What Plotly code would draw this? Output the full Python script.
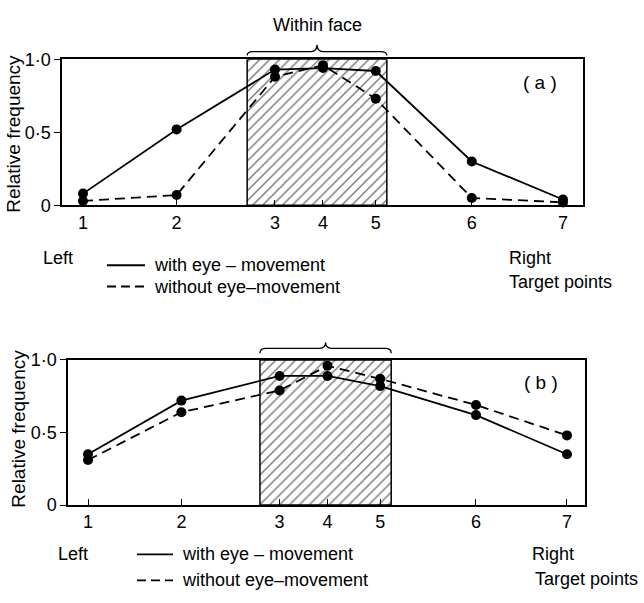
import plotly.graph_objects as go

# ---- data ----
target_points = [1, 2, 3, 4, 5, 6, 7]
target_pos = [0, 1.95, 4, 5, 6.1, 8.1, 10]          # horizontal position of each target
tick_labels = ["1", "2", "3", "4", "5", "6", "7"]
y_tick_vals = [0, 0.5, 1.0]
y_tick_text = ["0", "0·5", "1·0"]

with_eye_a = [0.08, 0.52, 0.93, 0.94, 0.92, 0.30, 0.04]
without_eye_a = [0.03, 0.07, 0.88, 0.96, 0.73, 0.05, 0.02]
with_eye_b = [0.35, 0.72, 0.89, 0.89, 0.82, 0.62, 0.35]
without_eye_b = [0.31, 0.64, 0.79, 0.96, 0.87, 0.69, 0.48]

face_region_a = [3.42, 6.33]
face_region_b = [3.59, 6.33]

W, H = 644, 603
FONT = "Liberation Sans, Arial, sans-serif"


def px(x):
    return x / W


def py(y):
    return 1 - y / H


panels = [
    dict(xd=[px(62), px(583)], yd=[py(202), py(51)], xr=[-0.4375, 10.417],
         w=with_eye_a, wo=without_eye_a, face=face_region_a, label="( a )",
         lab_xy=(540, 75), brace_y=(47, 43, 36), ytitle_xy=(14, 128),
         left_xy=(58, 256), right_xy=(507, 257), tp_xy=(507, 281),
         leg=(107, 145, 152, 264, 286)),
    dict(xd=[px(68), px(585)], yd=[py(512), py(362)], xr=[-0.4175, 10.376],
         w=with_eye_b, wo=without_eye_b, face=face_region_b, label="( b )",
         lab_xy=(541, 385), brace_y=(355, 350, 344), ytitle_xy=(19, 433),
         left_xy=(73, 563), right_xy=(530, 563), tp_xy=(533, 589),
         leg=(137, 173, 180, 563, 590)),
]

fig = go.Figure()
shapes = []
annotations = []

for i, p in enumerate(panels):
    n = "" if i == 0 else str(i + 1)
    xa, ya = "x" + n, "y" + n
    f0, f1 = p["face"]
    # hatched "within face" region
    fig.add_trace(go.Bar(
        x=[(f0 + f1) / 2], y=[1.0], width=[f1 - f0], base=0,
        xaxis=xa, yaxis=ya, showlegend=False, hoverinfo="skip",
        marker=dict(color="white", line=dict(color="black", width=1.5),
                    pattern=dict(shape="/", fgcolor="black", bgcolor="white",
                                 size=7, solidity=0.22)),
    ))
    fig.add_trace(go.Scatter(
        x=target_pos, y=p["w"], xaxis=xa, yaxis=ya, mode="lines+markers",
        line=dict(color="black", width=1.8), marker=dict(color="black", size=10),
        showlegend=False, cliponaxis=False, name="with eye-movement"))
    fig.add_trace(go.Scatter(
        x=target_pos, y=p["wo"], xaxis=xa, yaxis=ya, mode="lines+markers",
        line=dict(color="black", width=1.8, dash="10px,6px"),
        marker=dict(color="black", size=10),
        showlegend=False, cliponaxis=False, name="without eye-movement"))

    axis_common = dict(showline=True, linecolor="black", linewidth=1.5, mirror=True,
                       showgrid=False, zeroline=False, ticks="",
                       tickfont=dict(family=FONT, size=18, color="black"))
    fig.update_layout(**{
        ("xaxis" + n): dict(axis_common, domain=p["xd"], range=p["xr"],
                            anchor=ya, tickmode="array", tickvals=target_pos,
                            ticktext=tick_labels, ticks="inside", ticklen=6,
                            tickwidth=1.2, tickcolor="black"),
        ("yaxis" + n): dict(axis_common, domain=p["yd"], range=[0, 1],
                            anchor=xa, tickmode="array", tickvals=y_tick_vals,
                            ticktext=y_tick_text, ticks="outside", ticklen=6,
                            tickwidth=1.2, tickcolor="black"),
    })

    # brace over the face region
    r0, r1 = p["xr"]
    d0, d1 = p["xd"]
    bx0 = d0 + (f0 - r0) / (r1 - r0) * (d1 - d0)
    bx1 = d0 + (f1 - r0) / (r1 - r0) * (d1 - d0)
    bm = (bx0 + bx1) / 2
    ye, yh, yt = [py(v) for v in p["brace_y"]]
    dx = px(6)
    path = (f"M {bx0},{ye} Q {bx0},{yh} {bx0+dx},{yh} L {bm-dx},{yh} "
            f"Q {bm},{yh} {bm},{yt} Q {bm},{yh} {bm+dx},{yh} "
            f"L {bx1-dx},{yh} Q {bx1},{yh} {bx1},{ye}")
    shapes.append(dict(type="path", xref="paper", yref="paper", path=path,
                       line=dict(color="black", width=1.3)))

    def ann(text, x, y, xanchor="left", size=18, angle=0):
        annotations.append(dict(text=text, x=px(x), y=py(y), xref="paper",
                                yref="paper", showarrow=False, xanchor=xanchor,
                                yanchor="middle", textangle=angle,
                                font=dict(family=FONT, size=size, color="black")))

    ann(p["label"], p["lab_xy"][0], p["lab_xy"][1], xanchor="center", size=19)
    ann("Relative frequency", p["ytitle_xy"][0], p["ytitle_xy"][1],
        xanchor="center", angle=-90, size=19)
    ann("Left", p["left_xy"][0], p["left_xy"][1], xanchor="center")
    ann("Right", p["right_xy"][0], p["right_xy"][1])
    ann("Target points", p["tp_xy"][0], p["tp_xy"][1])

    lx0, lx1, tx, ly1, ly2 = p["leg"]
    shapes.append(dict(type="line", xref="paper", yref="paper", x0=px(lx0),
                       x1=px(lx1), y0=py(ly1), y1=py(ly1),
                       line=dict(color="black", width=1.8)))
    shapes.append(dict(type="line", xref="paper", yref="paper", x0=px(lx0),
                       x1=px(lx1), y0=py(ly2), y1=py(ly2),
                       line=dict(color="black", width=1.8, dash="9px,5px")))
    ann("with eye – movement", tx, ly1)
    ann("without eye–movement", tx, ly2)

annotations.append(dict(text="Within face", x=px(317), y=py(15), xref="paper",
                        yref="paper", showarrow=False, xanchor="center",
                        yanchor="middle",
                        font=dict(family=FONT, size=18, color="black")))

fig.update_layout(width=W, height=H, margin=dict(l=0, r=0, t=0, b=0),
                  paper_bgcolor="white", plot_bgcolor="white",
                  shapes=shapes, annotations=annotations, showlegend=False,
                  barmode="overlay")

fig.write_html("out.html")
